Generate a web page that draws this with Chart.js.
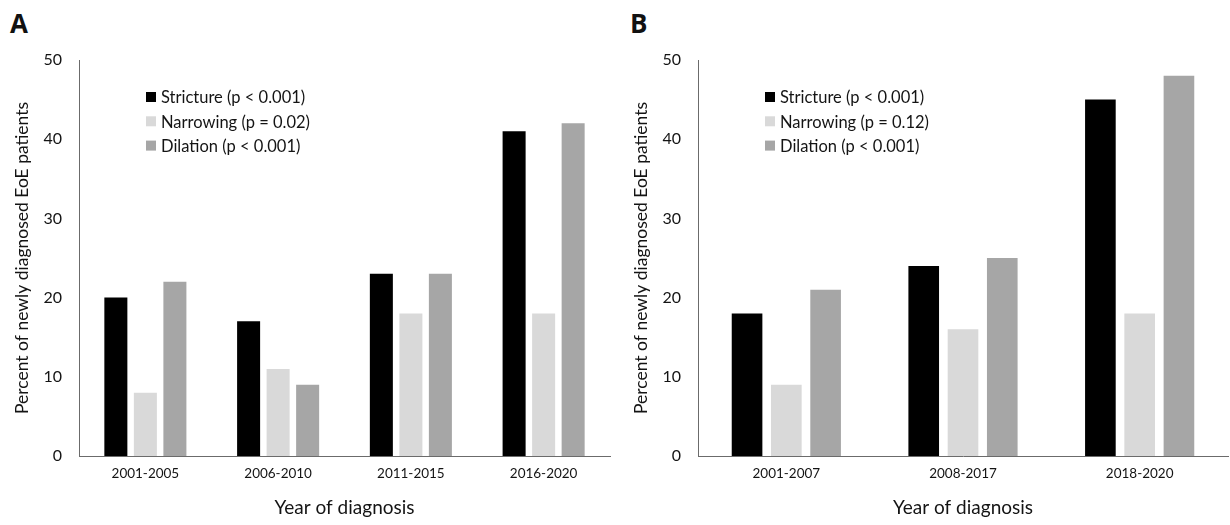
<!DOCTYPE html>
<html>
<head>
<meta charset="utf-8">
<script src="https://cdn.jsdelivr.net/npm/chart.js@4/dist/chart.umd.min.js"></script>
<style>
  html, body { margin: 0; padding: 0; background: #fff; }
  #wrap { position: relative; width: 1230px; height: 525px; overflow: hidden; }
  canvas { position: absolute; top: 0; }
  .panel-letter { position: absolute; top: 5px; font: bold 26px "Open Sans", sans-serif; color: #111; }
</style>
</head>
<body>
<div id="wrap">
  <div class="panel-letter" style="left:10px">A</div>
  <div class="panel-letter" style="left:630px">B</div>
  <canvas id="chartA" width="615" height="525" style="left:0"></canvas>
  <canvas id="chartB" width="615" height="525" style="left:615px"></canvas>
</div>
<script>
// Panel A: four diagnosis periods
const categoriesA = ['2001-2005', '2006-2010', '2011-2015', '2016-2020'];
const strictureA = [20, 17, 23, 41];
const narrowingA = [8, 11, 18, 18];
const dilationA = [22, 9, 23, 42];
const labelsA = ['Stricture (p < 0.001)', 'Narrowing (p = 0.02)', 'Dilation (p < 0.001)'];

// Panel B: three diagnosis periods
const categoriesB = ['2001-2007', '2008-2017', '2018-2020'];
const strictureB = [18, 24, 45];
const narrowingB = [9, 16, 18];
const dilationB = [21, 25, 48];
const labelsB = ['Stricture (p < 0.001)', 'Narrowing (p = 0.12)', 'Dilation (p < 0.001)'];

// Y axis range and step
const yMin = 0;
const yMax = 50;
const yStep = 10;

const seriesColors = ['#000000', '#d9d9d9', '#a6a6a6'];
const FONT = 'Lato, "Open Sans", sans-serif';
const AXIS_COLOR = '#6b6b6b';
const TEXT_COLOR = '#141414';

// Draws the legend inside the plot area, upper left
const innerLegend = {
  id: 'innerLegend',
  afterDraw(chart) {
    const { ctx, chartArea } = chart;
    ctx.save();
    ctx.font = '16.5px ' + FONT;
    ctx.textBaseline = 'middle';
    chart.data.datasets.forEach((ds, i) => {
      const x = chartArea.left + 67;
      const y = chartArea.top + 37 + i * 24.3;
      ctx.fillStyle = ds.backgroundColor;
      ctx.fillRect(x, y - 5, 10, 10);
      ctx.fillStyle = TEXT_COLOR;
      ctx.fillText(ds.label, x + 15, y + 1);
    });
    ctx.restore();
  }
};

function makeChart(id, categories, values, labels, padLeft, padRight) {
  return new Chart(document.getElementById(id), {
    type: 'bar',
    data: {
      labels: categories,
      datasets: values.map((v, i) => ({
        label: labels[i],
        data: v,
        backgroundColor: seriesColors[i],
        borderWidth: 0,
        categoryPercentage: 0.667,
        barPercentage: 0.78
      }))
    },
    options: {
      responsive: false,
      animation: false,
      layout: { padding: { left: padLeft, right: padRight, top: 60, bottom: 0 } },
      plugins: { legend: { display: false }, tooltip: { enabled: false } },
      scales: {
        x: {
          grid: { display: false, drawTicks: false },
          border: { display: true, color: AXIS_COLOR, width: 1 },
          ticks: { color: TEXT_COLOR, font: { family: FONT, size: 13.5 }, padding: 10, maxRotation: 0 },
          title: { display: true, text: 'Year of diagnosis', color: TEXT_COLOR,
                   font: { family: FONT, size: 19 }, padding: { top: 0, bottom: 6 } },
          afterFit(scale) { scale.height = 69; }
        },
        y: {
          min: yMin, max: yMax,
          grid: { display: false, drawTicks: false },
          border: { display: true, color: AXIS_COLOR, width: 1 },
          ticks: { stepSize: yStep, color: TEXT_COLOR, font: { family: FONT, size: 16 }, padding: 17 },
          title: { display: true, text: 'Percent of newly diagnosed EoE patients', color: TEXT_COLOR,
                   font: { family: FONT, size: 17.5 }, padding: { top: 12, bottom: 0 } },
          afterFit(scale) { scale.width = 79; }
        }
      }
    },
    plugins: [innerLegend]
  });
}

makeChart('chartA', categoriesA, [strictureA, narrowingA, dilationA], labelsA, 0, 5);
makeChart('chartB', categoriesB, [strictureB, narrowingB, dilationB], labelsB, 4, 2);
</script>
</body>
</html>
